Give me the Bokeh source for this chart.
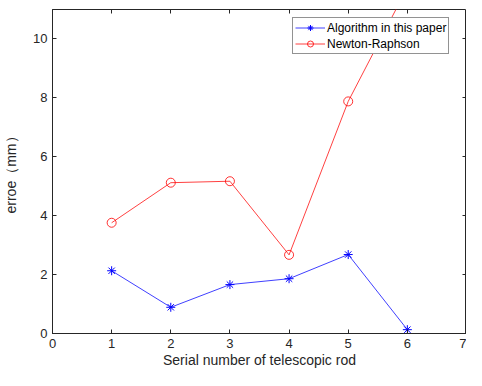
from bokeh.plotting import figure
from bokeh.models import LinearAxis, Range1d, Legend, LegendItem, FixedTicker
from bokeh.embed import file_html
from bokeh.resources import INLINE

rods = [1, 2, 3, 4, 5, 6]
algo_err = [2.13, 0.89, 1.66, 1.86, 2.68, 0.13]
newton_err = [3.76, 5.12, 5.17, 2.67, 7.88, 11.75]
x_ticks = [0, 1, 2, 3, 4, 5, 6, 7]
y_ticks = [0, 2, 4, 6, 8, 10]

FONT = "Liberation Sans"
TXT = "#262626"

p = figure(width=466, height=370, output_backend="svg", toolbar_location=None,
           x_range=Range1d(0, 7), y_range=Range1d(0, 11),
           min_border_left=14, min_border_right=0, min_border_top=9, min_border_bottom=0)
p.grid.visible = False
p.outline_line_color = TXT
p.outline_line_width = 1
p.background_fill_color = "white"
p.border_fill_color = "white"

def style_axis(ax, labels=True):
    ax.axis_line_color = TXT
    ax.major_tick_line_color = TXT
    ax.major_tick_in = 4
    ax.major_tick_out = 0
    ax.minor_tick_line_color = None
    ax.major_label_text_font = FONT
    ax.major_label_text_font_size = "13px"
    ax.major_label_text_color = TXT
    ax.axis_label_text_font = FONT
    ax.axis_label_text_font_size = "14px"
    ax.axis_label_text_font_style = "normal"
    ax.axis_label_text_color = TXT
    if not labels:
        ax.major_label_text_font_size = "1px"
        ax.major_label_standoff = 0
        ax.axis_line_color = None

p.xaxis.ticker = FixedTicker(ticks=x_ticks)
p.yaxis.ticker = FixedTicker(ticks=y_ticks)
style_axis(p.xaxis[0])
style_axis(p.yaxis[0])
p.xaxis.axis_label = "Serial number of telescopic rod"
p.yaxis.axis_label = "erroe（mm）"
p.xaxis.major_label_standoff = 5
p.yaxis.major_label_standoff = 5
p.xaxis.axis_label_standoff = 1
p.yaxis.axis_label_standoff = 11

top_ax = LinearAxis(ticker=FixedTicker(ticks=x_ticks),
                    major_label_overrides={t: "" for t in x_ticks})
right_ax = LinearAxis(ticker=FixedTicker(ticks=y_ticks),
                      major_label_overrides={t: "" for t in y_ticks})
style_axis(top_ax, labels=False)
style_axis(right_ax, labels=False)
p.add_layout(top_ax, "above")
p.add_layout(right_ax, "right")

BLUE = "#0000ff"
RED = "#ff0000"
l1 = p.line(rods, algo_err, line_color=BLUE, line_width=1, line_alpha=0.75)
m1 = p.scatter(rods, algo_err, marker="asterisk", size=9, line_color=BLUE, line_width=1)
l2 = p.line(rods, newton_err, line_color=RED, line_width=1, line_alpha=0.75)
m2 = p.scatter(rods, newton_err, marker="circle", size=9, line_color=RED,
               fill_color=None, line_width=1, line_alpha=0.8)

legend = Legend(items=[LegendItem(label="Algorithm in this paper", renderers=[l1, m1]),
                       LegendItem(label="Newton-Raphson", renderers=[l2, m2])])
legend.margin = 0
legend.location = (240, 279)
legend.border_line_color = TXT
legend.border_line_width = 1
legend.background_fill_color = "white"
legend.background_fill_alpha = 1
legend.label_text_font = FONT
legend.label_text_font_size = "12px"
legend.label_text_color = "#000000"
legend.glyph_width = 30
legend.glyph_height = 15
legend.label_height = 15
legend.label_standoff = 2
legend.spacing = 1
legend.padding = 2
p.add_layout(legend, "center")

open("out.html", "w").write(file_html(p, INLINE))
